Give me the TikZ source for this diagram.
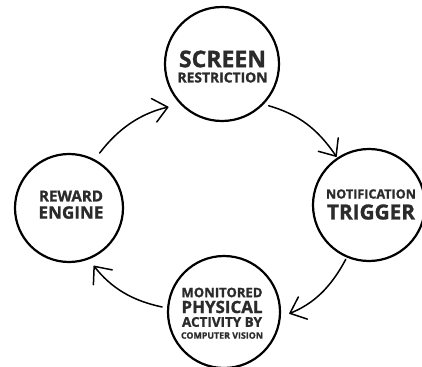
\documentclass[tikz,border=0pt]{standalone}
\usepackage{fontspec}
\usepackage{graphicx}
\setmainfont{Open Sans}[BoldFeatures={FakeBold=1.2}]
\usetikzlibrary{arrows.meta}
\definecolor{ink}{HTML}{2B2B2B}
% one line of a stage caption, scaled to a given width
\newcommand{\capline}[2]{\resizebox{#1pt}{!}{#2}}
\begin{document}
\begin{tikzpicture}[x=1pt,y=-1pt,
  stage/.style={circle, draw=black, line width=2.2pt, inner sep=0pt, minimum size=#1},
  caption/.style={inner sep=0pt, text=ink, font=\bfseries},
  flow/.style={line width=1.5pt, line cap=round, line join=round,
    -{Straight Barb[length=14pt,width=24pt,round]}, bend left=20}]
\fill[white] (0,0) rectangle (422,366);
\useasboundingbox (0,0) rectangle (422,366);

% the four stages of the cycle
\node[stage=114pt] (scr) at (222,64) {};
\node[stage=112pt] (ntf) at (369,205) {};
\node[stage=112pt] (mon) at (224,312) {};
\node[stage=108pt] (rwd) at (69,208) {};

% captions
\node[caption] (scr1) at (222.5,59) {\capline{87}{SCREEN}};
\node[caption] (scr2) at (222.5,77.5) {\capline{90}{RESTRICTION}};
\node[caption] (ntf1) at (371,194) {\capline{90}{NOTIFICATION}};
\node[caption] (ntf2) at (371,212) {\capline{88}{TRIGGER}};
\node[caption] (mon1) at (222,292.5) {\capline{81}{MONITORED}};
\node[caption] (mon2) at (222,307) {\capline{81}{PHYSICAL}};
\node[caption] (mon3) at (222,322) {\capline{80}{ACTIVITY BY}};
\node[caption] (mon4) at (222,335.5) {\capline{82}{COMPUTER VISION}};
\node[caption] (rwd1) at (71,196) {\capline{64}{REWARD}};
\node[caption] (rwd2) at (71,212.5) {\capline{65}{ENGINE}};

% clockwise flow between the stages
\draw[flow, shorten <=8pt, shorten >=12pt] (rwd.62) to (scr.224);
\draw[flow, shorten <=5pt, shorten >=1pt] (scr.316) to (ntf.124);
\draw[flow, shorten <=2pt, shorten >=9pt] (ntf.247) to (mon.355);
\draw[flow, shorten <=5pt, shorten >=8pt] (mon.176) to (rwd.291);
\end{tikzpicture}
\end{document}
